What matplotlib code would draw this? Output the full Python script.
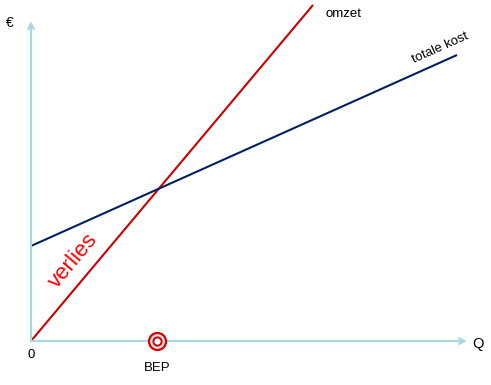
import numpy as np
import matplotlib.pyplot as plt

plt.rcParams['font.family'] = ['Liberation Sans', 'DejaVu Sans']

# break-even chart values (Q, euro) in chart units
q_omzet = [0, 282]
omzet = [0, 336]
q_kost = [0, 426]
kost = [95, 286]
bep_q = 126

fig = plt.figure(figsize=(4.91, 3.85), dpi=100)
ax = fig.add_axes([0, 0, 1, 1])
ax.set_xlim(-31, 460)
ax.set_ylim(-44, 341)
ax.axis('off')

axis_col = '#a9d9de'
# axes with arrow heads
ax.annotate('', xy=(436, 0), xytext=(0, 0),
            arrowprops=dict(arrowstyle='->', color=axis_col, lw=1.6, shrinkA=0, shrinkB=0))
ax.annotate('', xy=(0, 320), xytext=(0, 0),
            arrowprops=dict(arrowstyle='->', color=axis_col, lw=1.6, shrinkA=0, shrinkB=0))

ax.plot(q_omzet, omzet, color='#cc0000', lw=1.5, solid_capstyle='butt')
ax.plot(q_kost, kost, color='#002060', lw=1.5, solid_capstyle='butt')

# BEP marker
ax.scatter([bep_q], [0], s=150, facecolor='#cfe3e6', edgecolor='#dd0000', linewidth=1.6, zorder=5)
ax.scatter([bep_q], [0], s=35, facecolor='white', edgecolor='#dd0000', linewidth=1.4, zorder=6)

ax.text(-21, 318, '€', fontsize=10, ha='center', va='center')
ax.text(0, -14, '0', fontsize=9.5, ha='center', va='center')
ax.text(447, -3, 'Q', fontsize=10.5, ha='center', va='center')
ax.text(bep_q, -27, 'BEP', fontsize=9.5, ha='center', va='center')
ax.text(295, 327, 'omzet', fontsize=9.5, ha='left', va='center')
ax.text(409, 293, 'totale kost', fontsize=9.5, ha='center', va='center', rotation=24,
        rotation_mode='anchor')
ax.text(42, 80, 'verlies', fontsize=16, color='#ff0000', ha='center', va='center',
        rotation=50, rotation_mode='anchor')

fig.savefig('out.png', dpi=100)
